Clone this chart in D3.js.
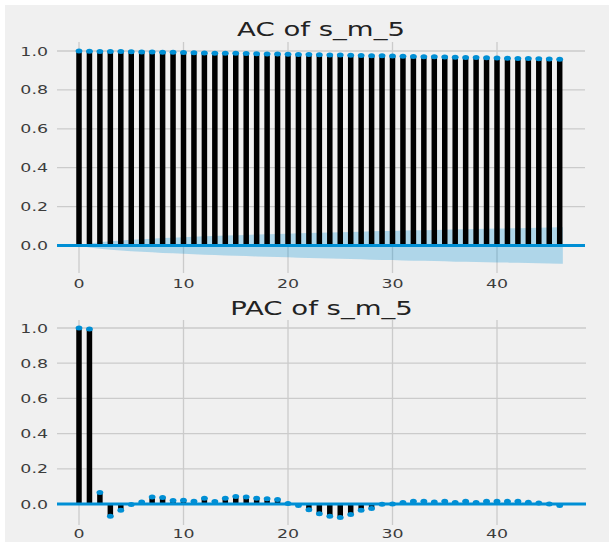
<!DOCTYPE html>
<html><head><meta charset="utf-8">
<script src="https://cdn.jsdelivr.net/npm/d3@7"></script>
<style>body{margin:0;background:#fff;} svg{display:block;}</style>
</head><body><svg id="c" width="614" height="543"></svg>
<script>
const lags = d3.range(0, 47);
const acfValues = [1.000,0.999,0.998,0.998,0.997,0.996,0.995,0.995,0.994,0.993,0.992,0.991,0.990,0.989,0.989,0.988,0.987,0.986,0.985,0.984,0.983,0.982,0.982,0.981,0.980,0.979,0.978,0.977,0.976,0.975,0.974,0.973,0.972,0.971,0.970,0.969,0.968,0.967,0.966,0.965,0.964,0.963,0.962,0.961,0.960,0.959,0.958];
const acfBand = [0,0.0098,0.017,0.022,0.026,0.029,0.0325,0.035,0.038,0.040,0.043,0.045,0.047,0.049,0.051,0.053,0.0546,0.056,0.058,0.0596,0.061,0.063,0.064,0.066,0.067,0.0686,0.070,0.071,0.073,0.074,0.075,0.077,0.078,0.079,0.080,0.081,0.083,0.084,0.085,0.086,0.087,0.088,0.089,0.090,0.091,0.092,0.0935];
const pacfValues = [1.0,0.995,0.065,-0.07,-0.035,-0.003,0.012,0.04,0.037,0.02,0.022,0.016,0.033,0.014,0.032,0.042,0.04,0.033,0.03,0.026,0.003,-0.008,-0.032,-0.055,-0.07,-0.077,-0.06,-0.035,-0.025,-0.002,0.0,0.008,0.015,0.015,0.012,0.015,0.008,0.015,0.008,0.015,0.015,0.015,0.015,0.01,0.005,0.0,-0.008];
const xTicks = [0,10,20,30,40];
const yTicks = [0.0,0.2,0.4,0.6,0.8,1.0];
const titles = ["AC of s_m_5","PAC of s_m_5"];

const svg = d3.select("#c");
const BLUE = "#008fd5";
svg.append("rect").attr("x",5).attr("y",5).attr("width",604).attr("height",537).attr("fill","#f0f0f0");

const SX = 1.45;
function stext(g, x, y, txt, size, anchor, color){
  g.append("g").attr("transform",`translate(${x},${y}) scale(${SX},1)`)
   .append("text").attr("text-anchor",anchor).attr("font-family","DejaVu Sans")
   .attr("font-size",size).attr("fill",color).text(txt);
}

const x = d3.scaleLinear().domain([0,40]).range([79,497]);

function panel(cfg){
  const y = d3.scaleLinear().domain([0,1]).range([cfg.y0,cfg.y1]);
  const g = svg.append("g");
  // grid
  g.selectAll(".hg").data(yTicks).join("line")
    .attr("x1",cfg.left).attr("x2",cfg.right).attr("y1",d=>y(d)).attr("y2",d=>y(d))
    .attr("stroke","#cbcbcb").attr("stroke-width",1.3);
  g.selectAll(".vg").data(xTicks).join("line")
    .attr("x1",d=>x(d)).attr("x2",d=>x(d)).attr("y1",cfg.top).attr("y2",cfg.bottom)
    .attr("stroke","#cbcbcb").attr("stroke-width",1.3);
  // tick labels
  yTicks.forEach(t=>stext(g,48,y(t)+4.5,d3.format(".1f")(t),12,"end","#3c3c3c"));
  xTicks.forEach(t=>stext(g,x(t),cfg.xlab,String(t),12,"middle","#3c3c3c"));
  stext(g,(cfg.left+cfg.right)/2,cfg.titleY,cfg.title,19,"middle","#222");
  // band
  if(cfg.band){
    const pts = cfg.band.map((b,i)=>({x:lags[i],b}));
    pts.push({x:46.3,b:cfg.band[cfg.band.length-1]});
    g.append("path").datum(pts)
      .attr("d",d3.area().x(d=>x(d.x)).y0(d=>y(-d.b)).y1(d=>y(d.b)))
      .attr("fill",BLUE).attr("fill-opacity",0.27);
  }
  // stems
  g.selectAll(".st").data(cfg.vals).join("line")
    .attr("x1",(d,i)=>x(lags[i])).attr("x2",(d,i)=>x(lags[i]))
    .attr("y1",y(0)).attr("y2",d=>y(d))
    .attr("stroke","#000").attr("stroke-width",5.5);
  // zero line
  g.append("line").attr("x1",cfg.left).attr("x2",cfg.right).attr("y1",y(0)).attr("y2",y(0))
    .attr("stroke",BLUE).attr("stroke-width",3);
  // markers
  g.selectAll(".mk").data(cfg.vals).join("ellipse")
    .attr("cx",(d,i)=>x(lags[i])).attr("cy",d=>y(d)).attr("rx",3.4).attr("ry",2.5)
    .attr("fill",BLUE);
}

panel({vals:acfValues, band:acfBand, y0:245.5, y1:51, left:57, right:585, top:42, bottom:273, xlab:288, titleY:36, title:titles[0]});
panel({vals:pacfValues, band:null, y0:504, y1:328, left:57, right:586, top:320, bottom:525, xlab:538, titleY:315, title:titles[1]});
</script></body></html>
